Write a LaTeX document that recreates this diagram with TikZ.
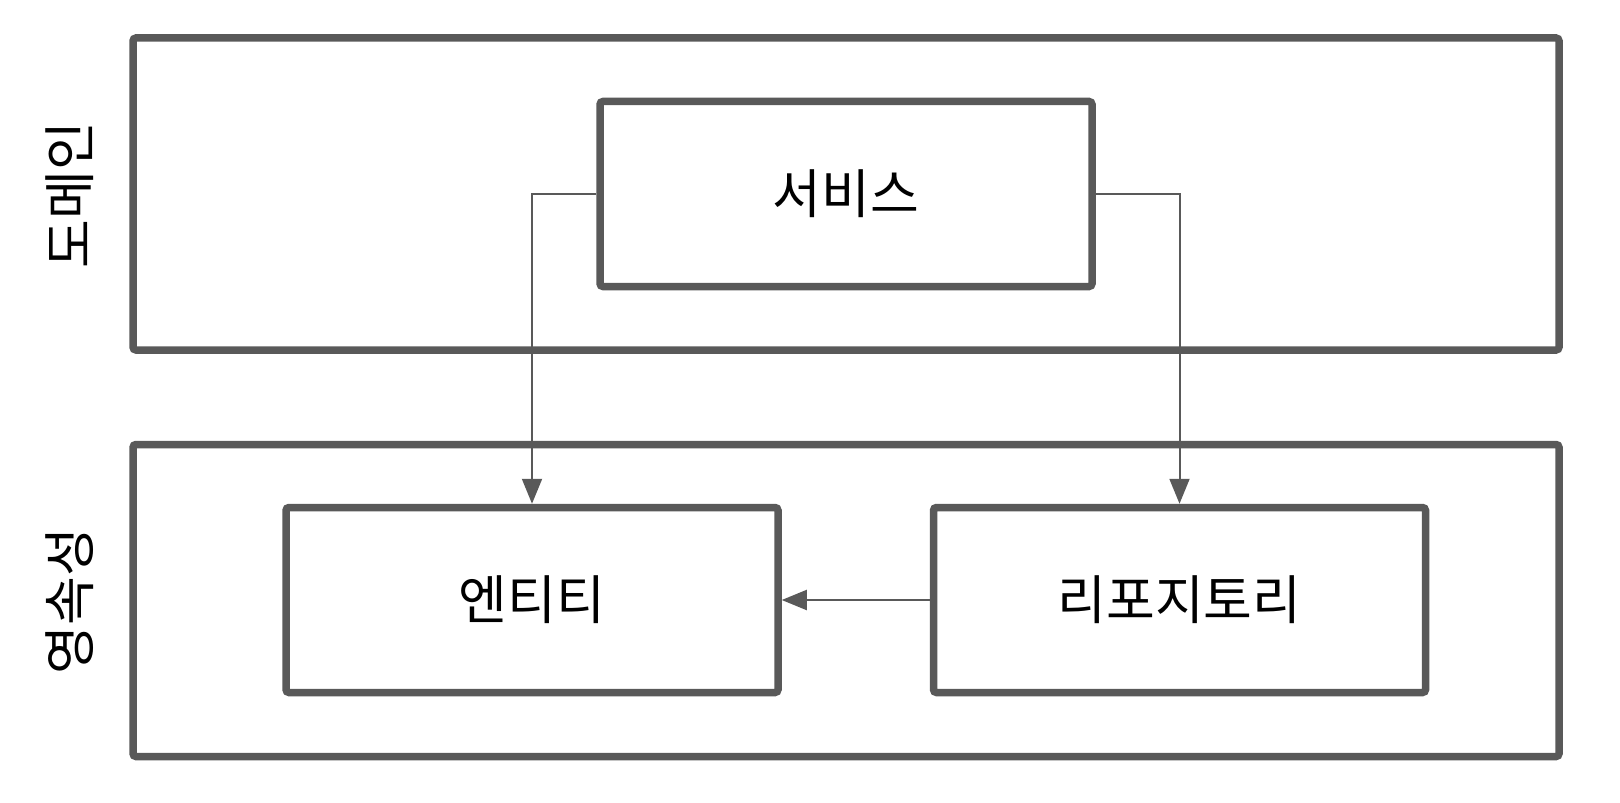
\documentclass[tikz,border=0pt]{standalone}
\usepackage{fontspec}
\setmainfont{Noto Sans CJK KR}
\usetikzlibrary{positioning,arrows.meta}
\definecolor{edge}{HTML}{595959}

\begin{document}
\begin{tikzpicture}[x=0.5pt, y=-0.5pt, >={Triangle[length=12.5pt,width=10pt]},
  layer/.style={draw=edge, line width=3.75pt, rounded corners=1.5pt, minimum width=713pt, minimum height=156pt},
  box/.style={draw=edge, line width=3.75pt, rounded corners=1.5pt, minimum width=246pt, minimum height=92.5pt, font=\fontsize{26.5pt}{30pt}\selectfont},
  lbl/.style={rotate=90, font=\fontsize{26.5pt}{30pt}\selectfont},
  link/.style={draw=edge, line width=1pt, ->}]
  \useasboundingbox (0,0) rectangle (1620,802);
  % layers
  \node[layer] (dom) at (846,194) {};
  \node[layer] (pers) at (846,600.5) {};
  \node[lbl] (domlbl) at (70,195) {도메인};
  \node[lbl] (perslbl) at (70,601) {영속성};
  % components
  \node[box] (svc) at (846,194) {서비스};
  \node[box] (ent) at (532,600) {엔티티};
  \node[box] (repo) at (1179.5,600) {리포지토리};

  \draw[link] (svc.west) -| (ent.north);
  \draw[link] (svc.east) -| (repo.north);
  \draw[link] (repo.west) -- (ent.east);
\end{tikzpicture}
\end{document}
